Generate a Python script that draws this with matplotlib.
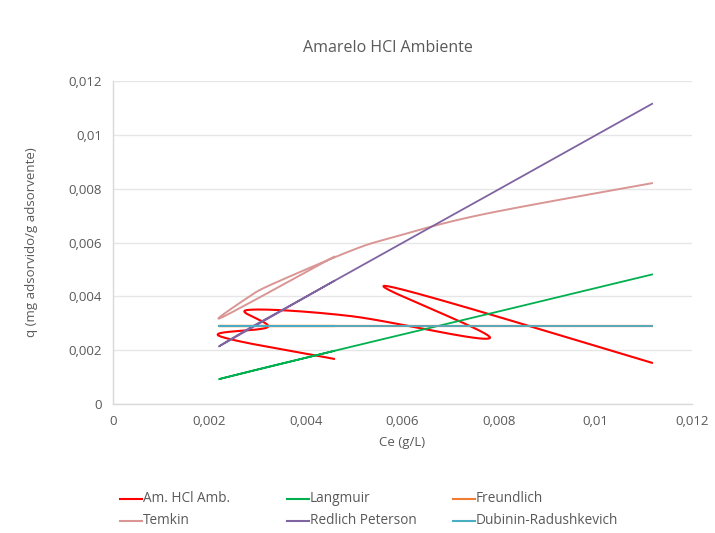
import numpy as np
import matplotlib
matplotlib.use("Agg")
import matplotlib.pyplot as plt
from matplotlib.lines import Line2D
from matplotlib.ticker import FixedLocator, FuncFormatter

# Experimental equilibrium concentration (g/L) and uptake, in measurement order
ce_exp = [0.00460, 0.00220, 0.00321, 0.00278, 0.00491, 0.00781, 0.00568, 0.01119]
q_exp = [0.00167, 0.00253, 0.00286, 0.00349, 0.00327, 0.00245, 0.00438, 0.00152]

# Concentrations used for the fitted isotherm curves
ce_model = [0.00460, 0.00226, 0.00278, 0.00321, 0.00491, 0.00578, 0.00765, 0.01119]
q_langmuir = [0.00198, 0.00095, 0.00119, 0.00138, 0.00211, 0.00249, 0.00329, 0.00482]
q_freundlich = [0.00290, 0.00290, 0.00290, 0.00290, 0.00290, 0.00290, 0.00290, 0.00290]
q_temkin = [0.00549, 0.00322, 0.00394, 0.00438, 0.00568, 0.00618, 0.00704, 0.00821]
q_redlich = [0.00459, 0.00220, 0.00277, 0.00320, 0.00490, 0.00577, 0.00763, 0.01117]
q_dubinin = [0.00290, 0.00290, 0.00290, 0.00290, 0.00290, 0.00290, 0.00290, 0.00290]

x_ticks = [0, 0.002, 0.004, 0.006, 0.008, 0.01, 0.012]
y_ticks = [0, 0.002, 0.004, 0.006, 0.008, 0.01, 0.012]

GRAY = "#595959"
FONT = "Open Sans"


def smooth_display(pts, n=60):
    """Spreadsheet-style smoothed line: cubic Bezier segments whose control
    handles are 1/6 of the neighbour chord, capped at half the segment."""
    p = np.asarray(pts, float)
    m = len(p)
    out = []
    t = np.linspace(0, 1, n)[:, None]
    for i in range(m - 1):
        p1, p2 = p[i], p[i + 1]
        p0 = p[i - 1] if i > 0 else p1
        p3 = p[i + 2] if i + 2 < m else p2
        d12 = np.hypot(*(p2 - p1))
        d02 = np.hypot(*(p2 - p0))
        d13 = np.hypot(*(p3 - p1))
        f0 = 1 / 6 if d02 / 6 < d12 / 2 else (d12 / d02 / 2 if d02 > 0 else 0)
        f1 = 1 / 6 if d13 / 6 < d12 / 2 else (d12 / d13 / 2 if d13 > 0 else 0)
        c1 = p1 + (p2 - p0) * f0
        c2 = p2 - (p3 - p1) * f1
        seg = ((1 - t) ** 3) * p1 + 3 * ((1 - t) ** 2) * t * c1 \
            + 3 * (1 - t) * t ** 2 * c2 + t ** 3 * p2
        out.append(seg if i == 0 else seg[1:])
    return np.vstack(out)


fig = plt.figure(figsize=(7.15, 5.33), dpi=100)
ax = fig.add_axes([113 / 715, 1 - 404 / 533, (692 - 113) / 715, (404 - 81) / 533])
ax.set_xlim(0, 0.012)
ax.set_ylim(0, 0.012)

series = [
    ("Am. HCl Amb.", ce_exp, q_exp, "#FF0000", 1.5),
    ("Langmuir", ce_model, q_langmuir, "#00B050", 1.3),
    ("Freundlich", ce_model, q_freundlich, "#ED7D31", 1.6),
    ("Temkin", ce_model, q_temkin, "#D99694", 1.4),
    ("Redlich Peterson", ce_model, q_redlich, "#8064A2", 1.3),
    ("Dubinin-Radushkevich", ce_model, q_dubinin, "#4BACC6", 1.3),
]
to_px = ax.transData
to_data = ax.transData.inverted()
draw_order = [3, 4, 1, 2, 5, 0]
for k in draw_order:
    name, xs, ys, col, lw = series[k]
    px = to_px.transform(np.column_stack([xs, ys]))
    curve = to_data.transform(smooth_display(px))
    ax.plot(curve[:, 0], curve[:, 1], color=col, lw=lw,
            solid_capstyle="butt", zorder=3 + k)

ax.xaxis.set_major_locator(FixedLocator(x_ticks))
ax.yaxis.set_major_locator(FixedLocator(y_ticks))
fmt = FuncFormatter(lambda v, pos: "0" if v == 0 else ("%g" % v).replace(".", ","))
ax.xaxis.set_major_formatter(fmt)
ax.yaxis.set_major_formatter(fmt)

ax.grid(axis="y", color="#E6E6E6", lw=1.0, zorder=0)
for side in ("top", "right"):
    ax.spines[side].set_visible(False)
for side in ("left", "bottom"):
    ax.spines[side].set_color("#D9D9D9")
    ax.spines[side].set_linewidth(1.0)
ax.tick_params(length=0, pad=8, labelsize=9.5, labelcolor=GRAY)
for lab in ax.get_xticklabels() + ax.get_yticklabels():
    lab.set_fontfamily(FONT)

ax.set_xlabel("Ce (g/L)", fontsize=9.5, color=GRAY, family=FONT, labelpad=6)
ax.set_ylabel("q (mg adsorvido/g adsorvente)", fontsize=9.5, color=GRAY,
              family=FONT, labelpad=22)

fig.text(388 / 715, 1 - 48 / 533, "Amarelo HCl Ambiente", ha="center",
         va="center", fontsize=11.5, color=GRAY, family=FONT)

# Legend laid out in three equal-width columns, two rows
legend_pos = [(120, 499), (287, 499), (453, 499), (120, 521), (287, 521), (453, 521)]
for (lx, ly), (name, xs, ys, col, lw) in zip(legend_pos, series):
    yf = 1 - ly / 533
    fig.add_artist(Line2D([lx / 715, (lx + 22) / 715], [yf, yf],
                          transform=fig.transFigure, color=col, lw=1.5))
    fig.text((lx + 23) / 715, yf, name, ha="left", va="center",
             fontsize=9.8, color=GRAY, family=FONT)

fig.savefig("out.png", dpi=100, facecolor="white")
